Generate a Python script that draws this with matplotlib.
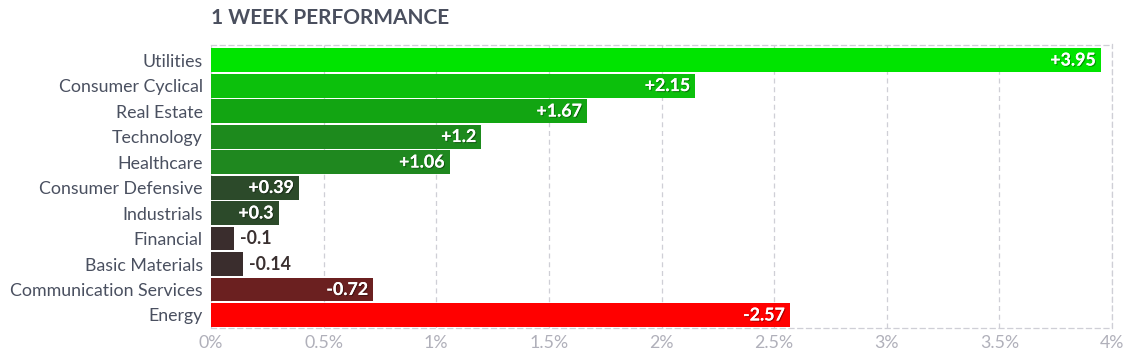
import matplotlib.pyplot as plt
import matplotlib.patheffects as pe
from matplotlib.ticker import FuncFormatter

sectors = ['Utilities', 'Consumer Cyclical', 'Real Estate', 'Technology', 'Healthcare',
           'Consumer Defensive', 'Industrials', 'Financial', 'Basic Materials',
           'Communication Services', 'Energy']
changes = [3.95, 2.15, 1.67, 1.2, 1.06, 0.39, 0.3, -0.1, -0.14, -0.72, -2.57]
labels = ['+3.95', '+2.15', '+1.67', '+1.2', '+1.06', '+0.39', '+0.3', '-0.1', '-0.14', '-0.72', '-2.57']
colors = ['#00e400', '#0cc00c', '#12a512', '#1d8a1d', '#1f881f', '#2c4a2a', '#2c4a2a',
          '#3a2d2d', '#3a2d2d', '#6b2020', '#ff0000']

plt.rcParams['font.family'] = ['Lato', 'DejaVu Sans']

fig = plt.figure(figsize=(11.31, 3.57), dpi=100)
ax = fig.add_axes([211 / 1131, 1 - 328 / 357, 901 / 1131, 283.5 / 357])

ypos = list(range(len(sectors)))
widths = [abs(v) for v in changes]
ax.barh(ypos, widths, height=0.94, color=colors, zorder=2)
ax.set_ylim(len(sectors) - 0.49, -0.61)
ax.set_xlim(0, 4)

# small shadow under the white value labels
shadow = [pe.withSimplePatchShadow(offset=(0.8, -0.8), shadow_rgbFace='#000000', alpha=0.35), pe.Normal()]
for y, w, lab in zip(ypos, widths, labels):
    if w < 0.2:
        ax.text(w + 0.03, y, lab, ha='left', va='center', fontsize=12.8,
                fontweight='bold', color='#3a3030', zorder=3)
    else:
        t = ax.text(w - 0.022, y, lab, ha='right', va='center', fontsize=12.8,
                    fontweight='bold', color='white', zorder=3)
        t.set_path_effects(shadow)

ax.set_yticks(ypos)
ax.set_yticklabels(sectors, fontsize=12.8, color='#4a5060')
ax.set_xticks([0, 0.5, 1, 1.5, 2, 2.5, 3, 3.5, 4])
ax.xaxis.set_major_formatter(FuncFormatter(lambda v, p: f'{v:g}%'))
ax.tick_params(axis='x', colors='#b0b0ba', labelsize=12.8, length=0, pad=5)
ax.tick_params(axis='y', length=0, pad=6)

ax.grid(axis='x', linestyle=(0, (4, 3)), color='#cfcfd6', linewidth=0.9, zorder=0)
ax.spines['left'].set_visible(False)
for side in ['top', 'bottom', 'right']:
    ax.spines[side].set_linestyle((0, (4, 3)))
    ax.spines[side].set_color('#cfcfd6')
    ax.spines[side].set_linewidth(0.9)

fig.text(211 / 1131, 1 - 18 / 357, '1 WEEK PERFORMANCE', ha='left', va='center',
         fontsize=15, fontweight='bold', color='#4a4f5e')

fig.savefig('out.png', dpi=100)
